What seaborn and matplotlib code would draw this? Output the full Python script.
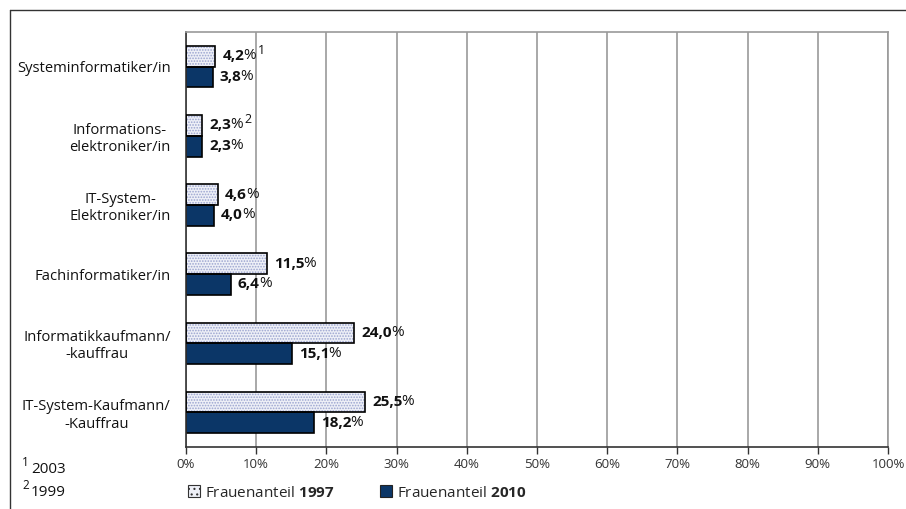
import matplotlib.pyplot as plt
import seaborn as sns
import pandas as pd
from matplotlib.lines import Line2D
from matplotlib.patches import Patch, Rectangle

berufe = [
    "Systeminformatiker/in",
    "Informations-\nelektroniker/in",
    "IT-System-\nElektroniker/in",
    "Fachinformatiker/in",
    "Informatikkaufmann/\n-kauffrau",
    "IT-System-Kaufmann/\n-Kauffrau",
]
anteil_1997 = [4.2, 2.3, 4.6, 11.5, 24.0, 25.5]
anteil_2010 = [3.8, 2.3, 4.0, 6.4, 15.1, 18.2]
fussnoten = ["1", "2", "", "", "", ""]
jahre = ["1997", "2010"]
x_ticks = list(range(0, 101, 10))
fussnoten_text = [("1", "2003"), ("2", "1999")]

HELL = "#eef0f7"
DUNKEL = "#0b3667"
PUNKTE = "#9aa3cf"
GRID = "#9a9a9a"

sns.set_theme(style="white")
plt.rcParams["font.family"] = ["Open Sans", "DejaVu Sans"]
plt.rcParams["mathtext.fontset"] = "custom"
plt.rcParams["mathtext.rm"] = "Open Sans"
plt.rcParams["mathtext.bf"] = "Open Sans:bold"
plt.rcParams["hatch.linewidth"] = 0.8

df = pd.DataFrame({
    "Beruf": berufe * 2,
    "Anteil": anteil_1997 + anteil_2010,
    "Jahr": [jahre[0]] * len(berufe) + [jahre[1]] * len(berufe),
})

fig = plt.figure(figsize=(9.06, 5.09), dpi=100)
ax = fig.add_axes([186 / 906, 1 - 447 / 509, 702 / 906, 415 / 509])

sns.barplot(
    data=df, y="Beruf", x="Anteil", hue="Jahr", orient="h",
    width=0.6, palette=[HELL, DUNKEL], saturation=1,
    edgecolor="black", linewidth=1.2, legend=False, ax=ax,
)

# dotted fill for the 1997 bars, outline drawn on top
for bar in ax.containers[0]:
    bar.set_edgecolor(PUNKTE)
    bar.set_hatch("......")
    bar.set_linewidth(0)
    ax.add_patch(Rectangle(bar.get_xy(), bar.get_width(), bar.get_height(),
                           fill=False, edgecolor="black", lw=1.2, zorder=3))

for container, werte in zip(ax.containers, [anteil_1997, anteil_2010]):
    for i, (bar, v) in enumerate(zip(container, werte)):
        t = ax.annotate(f"{v:.1f}".replace(".", ","),
                        xy=(bar.get_width(), bar.get_y() + bar.get_height() / 2),
                        xytext=(5, 0), textcoords="offset points",
                        ha="left", va="center", fontsize=11, fontweight="bold",
                        color="#111111")
        p = ax.annotate("%", xy=(1, 0), xycoords=t, xytext=(-0.6, 0),
                        textcoords="offset points", ha="left", va="bottom",
                        fontsize=11, color="#111111")
        if container is ax.containers[0] and fussnoten[i]:
            ax.annotate(fussnoten[i], xy=(1, 1), xycoords=p,
                        xytext=(1.5, 3), textcoords="offset points",
                        ha="left", va="top", fontsize=9, color="#111111")

ax.set_xlim(0, 100)
ax.set_xticks(x_ticks)
ax.set_xticklabels([f"{v}%" for v in x_ticks], fontsize=9.5, color="#333333")
ax.xaxis.grid(True, color=GRID, lw=1.2)
ax.set_axisbelow(True)
ax.set_xlabel("")
ax.set_ylabel("")
ax.tick_params(axis="x", bottom=True, length=5, width=1, color="#333333", pad=3)
ax.tick_params(axis="y", length=0, pad=11, labelsize=10.6, labelcolor="#111111")
for lbl in ax.get_yticklabels():
    lbl.set_multialignment("center")

for side in ["top", "right"]:
    ax.spines[side].set_color(GRID)
    ax.spines[side].set_linewidth(1.2)
for side in ["left", "bottom"]:
    ax.spines[side].set_color("#333333")
    ax.spines[side].set_linewidth(1.2)

# footnotes
for k, (nr, jahr) in enumerate(fussnoten_text):
    y = 1 - (473 + k * 23) / 509
    fig.text(22 / 906, y + 0.014, nr, fontsize=8.5, va="baseline", color="#111111")
    fig.text(31 / 906, y, jahr, fontsize=11, va="baseline", color="#111111")

handles = [
    Patch(facecolor=HELL, edgecolor="#333333", hatch="...", lw=0.8),
    Patch(facecolor=DUNKEL, edgecolor="#222222", lw=0.8),
]
fig.legend(handles, [f"Frauenanteil $\\mathbf{{{j}}}$" for j in jahre],
           loc="center left", bbox_to_anchor=(174 / 906, 1 - 493 / 509),
           ncol=2, frameon=False, handlelength=0.8, handleheight=0.8,
           handletextpad=0.3, columnspacing=3.0, fontsize=11)

# outer frame lines
fig.add_artist(Line2D([10 / 906, 1], [1 - 10 / 509, 1 - 10 / 509],
                      transform=fig.transFigure, color="#333333", lw=1))
fig.add_artist(Line2D([10 / 906, 10 / 906], [0, 1 - 10 / 509],
                      transform=fig.transFigure, color="#333333", lw=1))

fig.savefig("out.png", dpi=100)
